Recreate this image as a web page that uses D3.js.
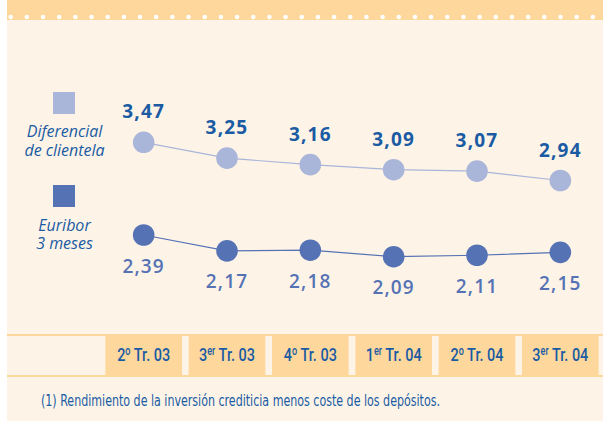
<!DOCTYPE html>
<html>
<head>
<meta charset="utf-8">
<script src="https://cdn.jsdelivr.net/npm/d3@7"></script>
<style>
  body { margin: 0; background: #fff; }
  svg { display: block; }
</style>
</head>
<body>
<div id="chart"></div>
<script>
"use strict";

const categories = ["2º Tr. 03", "3er Tr. 03", "4º Tr. 03", "1er Tr. 04", "2º Tr. 04", "3er Tr. 04"];
// ordinal suffix shown as superscript
const cat_num = ["2", "3", "4", "1", "2", "3"];
const cat_sup = ["o", "er", "o", "er", "o", "er"];
const cat_rest = [" Tr. 03", " Tr. 03", " Tr. 03", " Tr. 04", " Tr. 04", " Tr. 04"];

const diferencial = [3.47, 3.25, 3.16, 3.09, 3.07, 2.94];
const euribor = [2.39, 2.17, 2.18, 2.09, 2.11, 2.15];

const footnote = "(1)  Rendimiento de la inversión crediticia menos coste de los depósitos.";

const W = 603, H = 421;
const c_orange = "#fed79c";
const c_cream = "#fdf4e7";
const c_blue = "#1a5ba3";
const c_light = "#aab5da";
const c_dark = "#5572b5";

const svg = d3.select("#chart").append("svg")
    .attr("width", W)
    .attr("height", H);

// panel
svg.append("rect").attr("x", 7).attr("y", 0).attr("width", W - 7).attr("height", H).style("fill", c_cream);
svg.append("rect").attr("x", 7).attr("y", 0).attr("width", W - 7).attr("height", 20).style("fill", c_orange);

// white dots on top border
const dot_x = d3.range(37).map((i) => {return 10.7 + i * 16.17;});
svg.selectAll(".topdot").data(dot_x).enter().append("circle")
    .attr("cx", (d) => d)
    .attr("cy", 17)
    .attr("r", 2.3)
    .style("fill", "#fff");

const x = d3.scaleBand()
    .domain(categories)
    .range([102, 602])
    .paddingInner(0.08)
    .paddingOuter(0.04);

const yDif = d3.scaleLinear().domain([2.94, 3.47]).range([180.5, 142.3]);
const yEur = d3.scaleLinear().domain([2.09, 2.39]).range([256.7, 235]);

// category band
svg.append("rect").attr("x", 7).attr("y", 334).attr("width", W - 7).attr("height", 2).style("fill", c_orange);
svg.append("rect").attr("x", 7).attr("y", 375).attr("width", W - 7).attr("height", 2).style("fill", c_orange);

const cells = svg.selectAll(".cell").data(categories).enter().append("g");
cells.append("rect")
    .attr("x", (d) => x(d))
    .attr("y", 334)
    .attr("width", x.bandwidth())
    .attr("height", 43)
    .style("fill", c_orange);

// condensed look: squeeze the label horizontally
const cat_text = cells.append("text")
    .attr("transform", (d) => "translate(" + (x(d) + x.bandwidth() / 2) + ",361) scale(0.76,1)")
    .attr("text-anchor", "middle")
    .style("font-family", "Roboto")
    .style("font-weight", 500)
    .style("font-size", "19px")
    .style("fill", c_blue);
cat_text.append("tspan").text((d, i) => cat_num[i]);
cat_text.append("tspan").attr("dy", -6).style("font-size", "12px").text((d, i) => cat_sup[i]);
cat_text.append("tspan").attr("dy", 6).text((d, i) => cat_rest[i]);

const fmt = (v) => v.toFixed(2).replace(".", ",");

const line = function(yScale){
    return d3.line()
        .x((d, i) => x(categories[i]) + x.bandwidth() / 2)
        .y((d) => yScale(d));
};

const draw_series = function(values, yScale, color, label_color, label_dy, weight){
    svg.append("path")
        .datum(values)
        .attr("d", line(yScale))
        .style("fill", "none")
        .style("stroke", color)
        .style("stroke-width", 1.2);

    svg.selectAll(null).data(values).enter().append("circle")
        .attr("cx", (d, i) => x(categories[i]) + x.bandwidth() / 2)
        .attr("cy", (d) => yScale(d))
        .attr("r", 10.8)
        .style("fill", color);

    svg.selectAll(null).data(values).enter().append("text")
        .attr("x", (d, i) => x(categories[i]) + x.bandwidth() / 2)
        .attr("y", (d) => yScale(d) + label_dy)
        .attr("text-anchor", "middle")
        .style("font-family", "'Open Sans'")
        .style("font-weight", weight)
        .style("font-size", "19px")
        .style("letter-spacing", "1.2px")
        .style("fill", label_color)
        .text((d) => fmt(d));
};

draw_series(diferencial, yDif, c_light, c_blue, -24, 700);
draw_series(euribor, yEur, c_dark, c_dark, 37.5, 600);

// legend
const legend = [
    {color: c_light, y: 92, lines: ["Diferencial", "de clientela"], base: 137.3},
    {color: c_dark, y: 185, lines: ["Euribor", "3 meses"], base: 230.7}
];
legend.forEach((l) => {
    svg.append("rect").attr("x", 53).attr("y", l.y).attr("width", 22).attr("height", 22).style("fill", l.color);
    const t = svg.append("text")
        .attr("y", l.base)
        .attr("text-anchor", "middle")
        .style("font-family", "'Open Sans'")
        .style("font-style", "italic")
        .style("font-size", "16px")
        .style("fill", c_blue);
    l.lines.forEach((s, i) => {
        t.append("tspan")
            .attr("x", 64.5)
            .attr("dy", i === 0 ? 0 : 18.5)
            .text(s);
    });
});

// footnote
svg.append("text")
    .attr("x", 41)
    .attr("y", 405.5)
    .attr("textLength", 399)
    .attr("lengthAdjust", "spacingAndGlyphs")
    .style("font-family", "'DejaVu Sans Condensed', 'DejaVu Sans'")
    .style("font-stretch", "condensed")
    .style("font-size", "16px")
    .style("fill", c_blue)
    .text(footnote);
</script>
</body>
</html>
